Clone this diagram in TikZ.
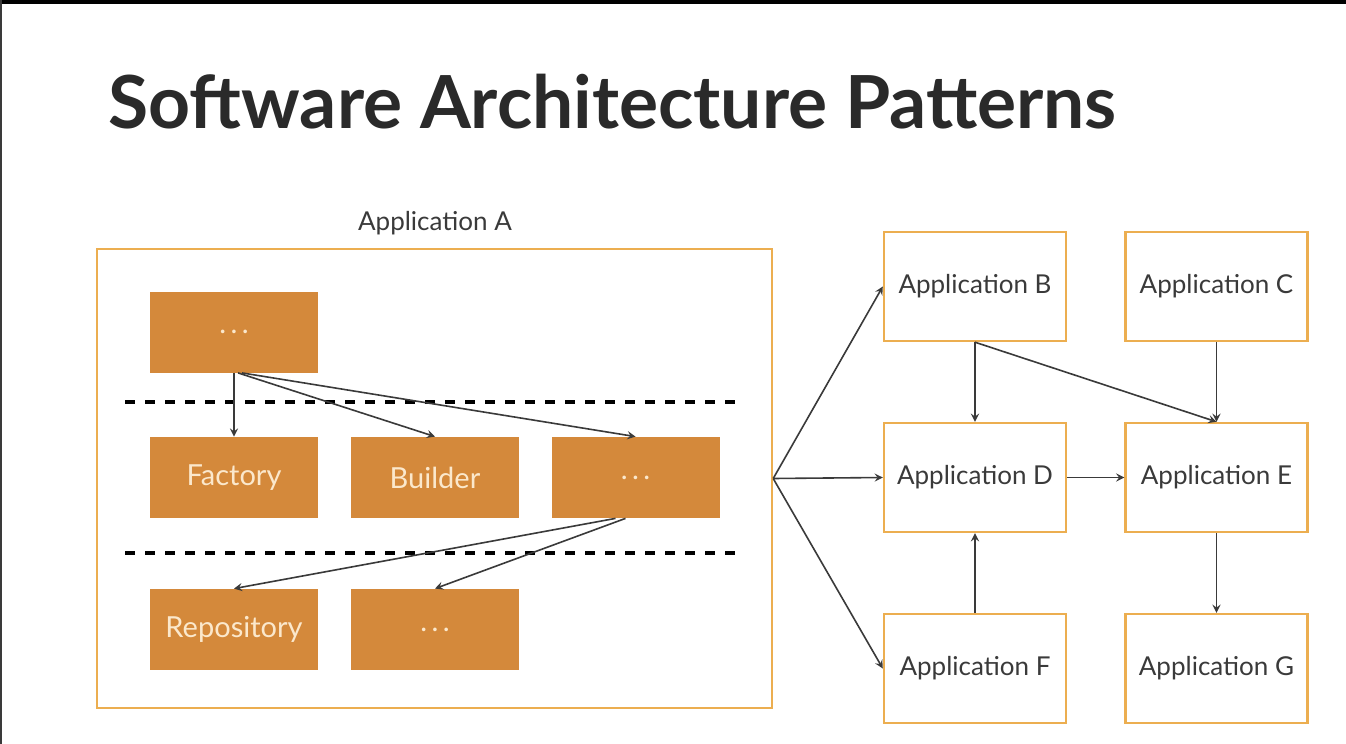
\documentclass[tikz,border=0pt]{standalone}
\usepackage{fontspec}
\setmainfont{Lato}
\usepackage{tikz}
\usetikzlibrary{calc,arrows}

\definecolor{boxorange}{HTML}{D4893B}
\definecolor{lineorange}{HTML}{ECAE50}
\definecolor{textgray}{HTML}{3A3A3A}
\definecolor{titlegray}{HTML}{2A2A2A}
\definecolor{cream}{HTML}{FBE8CC}

\newcommand{\dotsbox}{.\hspace{2.2pt}.\hspace{2.2pt}.}

\tikzset{
    layer/.style = {fill=boxorange, text=cream, minimum width=84pt, minimum height=40.5pt, inner sep=0pt, font=\fontsize{14.5}{16}\selectfont},
    app/.style = {draw=lineorange, fill=white, line width=1.2pt, text=textgray, minimum width=91pt, minimum height=54.5pt, inner sep=0pt, font=\fontsize{13}{15}\selectfont},
    link/.style = {-stealth, line width=0.8pt, draw=textgray},
    sep/.style = {line width=2.4pt, dash pattern=on 5pt off 5pt}
}

\begin{document}
\begin{tikzpicture}[x=0.5pt, y=-0.5pt]
            \useasboundingbox (0,0) rectangle (1346,744);
            \fill [white] (0,0) rectangle (1346,744);
            \fill [black] (0,0) rectangle (1346,3.5);
            \fill [textgray] (0,0) rectangle (1.5,744);
        % title
            \node [anchor=base west, inner sep=0pt, text=titlegray, font=\fontsize{36.6}{40}\selectfont\bfseries] (title) at (108,128) {Software Architecture Patterns};
        % application A
            \node [draw=lineorange, line width=1.2pt, minimum width=337.5pt, minimum height=229.5pt, inner sep=0pt] (appA) at (434.5,478.5) {};
            \node [text=textgray, font=\fontsize{13}{15}\selectfont] (appAlabel) at (435,223) {Application A};
            \node [layer] (topdots) at (234,332) {\dotsbox};
            \node [layer] (factory) at (234,477.5) {Factory};
            \node [layer] (builder) at (435,477.5) {Builder};
            \node [layer] (middots) at (635.5,477.5) {\dotsbox};
            \node [layer] (repo) at (234,629.5) {Repository};
            \node [layer] (lowdots) at (435,629.5) {\dotsbox};
            \draw [sep] (125,402) -- (737,402);
            \draw [sep] (125,553) -- (737,553);
            \draw [link] (topdots.south) -- (factory.north);
            \draw [link] ([xshift=2pt]topdots.south) -- (builder.north);
            \draw [link] ([xshift=4pt]topdots.south) -- (middots.north);
            \draw [link] ([xshift=-10pt]middots.south) -- (repo.north);
            \draw [link] ([xshift=-5pt]middots.south) -- (lowdots.north);
        % other applications
            \node [app] (appB) at (975,286.5) {Application B};
            \node [app] (appC) at (1216.5,286.5) {Application C};
            \node [app] (appD) at (975,477.5) {Application D};
            \node [app] (appE) at (1216.5,477.5) {Application E};
            \node [app] (appF) at (975,668.5) {Application F};
            \node [app] (appG) at (1216.5,668.5) {Application G};
            \draw [link] (appA.east) -- (appB.west);
            \draw [link] (appA.east) -- (appD.west);
            \draw [link] (appA.east) -- (appF.west);
            \draw [link] (appB.south) -- (appD.north);
            \draw [link] (appB.south) -- (appE.north);
            \draw [link] (appC.south) -- (appE.north);
            \draw [link] (appD.east) -- (appE.west);
            \draw [link] (appF.north) -- (appD.south);
            \draw [link] (appE.south) -- (appG.north);
\end{tikzpicture}
\end{document}
